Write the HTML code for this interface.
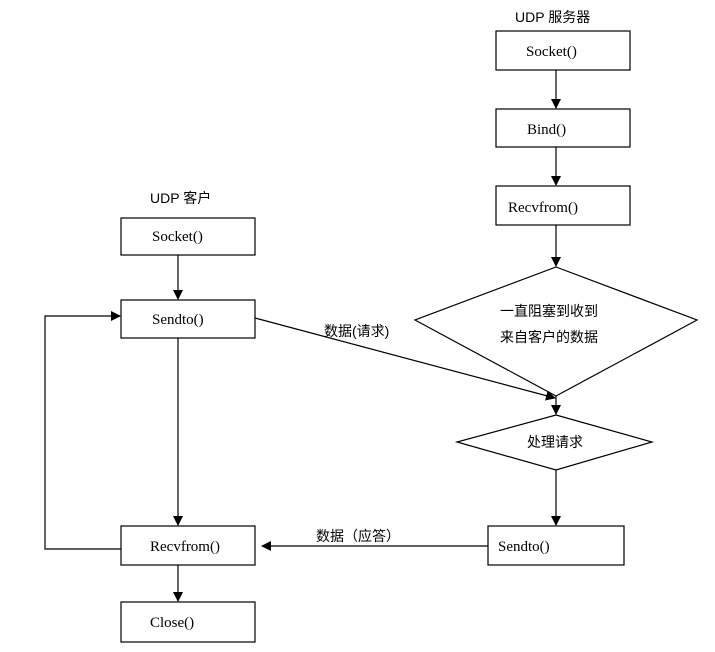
<!DOCTYPE html>
<html><head><meta charset="utf-8"><style>
html,body{margin:0;padding:0;background:#fff}
svg{display:block}
.t{font-family:"Liberation Serif","Noto Serif CJK SC",serif;font-size:15px;fill:#000}
.c{font-family:"Liberation Sans","Noto Sans CJK SC",sans-serif;font-size:14px;fill:#000}
</style></head><body>
<svg width="715" height="652" viewBox="0 0 715 652" xmlns="http://www.w3.org/2000/svg">
<defs><marker id="a" markerWidth="10" markerHeight="10" refX="9" refY="5" orient="auto" markerUnits="userSpaceOnUse"><path d="M0,0 L10,5 L0,10 z" fill="#000"/></marker></defs>
<g fill="none" stroke="#000" stroke-width="1.2">
<rect x="496" y="31" width="134" height="39"/>
<rect x="496" y="109" width="134" height="38"/>
<rect x="496" y="186" width="134" height="39"/>
<polygon points="556,267 697,320 556,396 415,320"/>
<polygon points="556,415 652,442 556,470 457,442"/>
<rect x="488" y="526" width="136" height="39"/>
<rect x="121" y="218" width="134" height="37"/>
<rect x="121" y="300" width="134" height="38"/>
<rect x="121" y="526" width="134" height="39"/>
<rect x="121" y="602" width="134" height="40"/>
<line x1="556" y1="70" x2="556" y2="108" marker-end="url(#a)"/>
<line x1="556" y1="147" x2="556" y2="185" marker-end="url(#a)"/>
<line x1="556" y1="225" x2="556" y2="266" marker-end="url(#a)"/>
<line x1="556" y1="396" x2="556" y2="414" marker-end="url(#a)"/>
<line x1="556" y1="470" x2="556" y2="525" marker-end="url(#a)"/>
<line x1="178" y1="255" x2="178" y2="299" marker-end="url(#a)"/>
<line x1="178" y1="338" x2="178" y2="525" marker-end="url(#a)"/>
<line x1="178" y1="565" x2="178" y2="601" marker-end="url(#a)"/>
<polyline points="121,549 45,549 45,316 120,316" marker-end="url(#a)"/>
<line x1="255" y1="318" x2="555" y2="398" marker-end="url(#a)"/>
<line x1="488" y1="546" x2="262" y2="546" marker-end="url(#a)"/>
</g>
<text class="c" x="515" y="22">UDP 服务器</text>
<text class="c" x="150" y="203">UDP 客户</text>
<text class="t" x="526" y="56">Socket()</text>
<text class="t" x="527" y="134">Bind()</text>
<text class="t" x="508" y="212">Recvfrom()</text>
<text class="c" x="500" y="316">一直阻塞到收到</text>
<text class="c" x="500" y="342">来自客户的数据</text>
<text class="c" x="527" y="447">处理请求</text>
<text class="t" x="498" y="551">Sendto()</text>
<text class="t" x="152" y="241">Socket()</text>
<text class="t" x="152" y="324">Sendto()</text>
<text class="t" x="150" y="551">Recvfrom()</text>
<text class="t" x="150" y="627">Close()</text>
<text class="c" x="324" y="336">数据(请求)</text>
<text class="c" x="316" y="541">数据（应答）</text>
</svg>
</body></html>
